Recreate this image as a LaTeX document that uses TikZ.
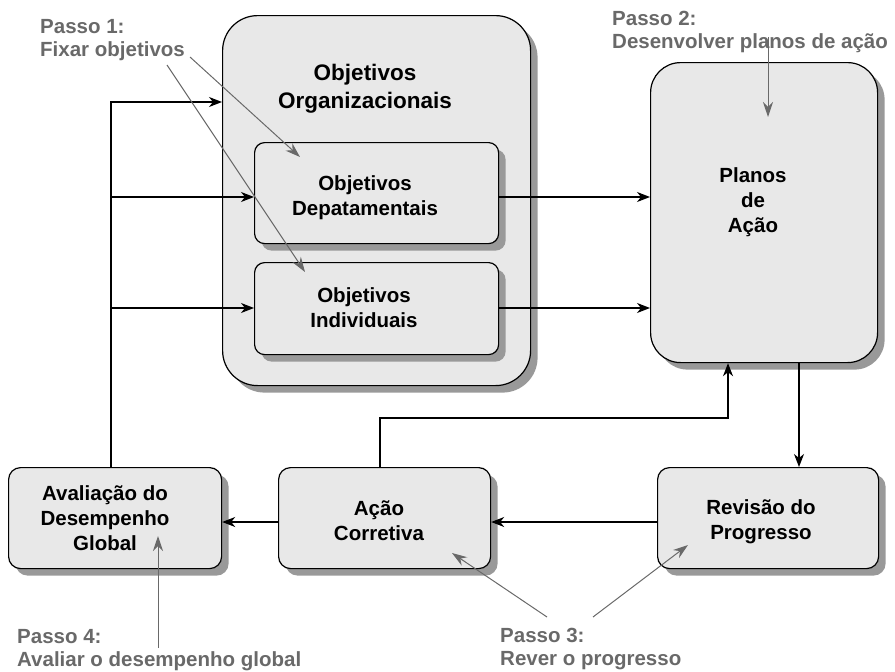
\documentclass[tikz,border=0pt]{standalone}
\usepackage{fontspec}
\setmainfont{Liberation Sans}
\usetikzlibrary{arrows.meta,shadows}
\definecolor{boxfill}{RGB}{232,232,232}
\definecolor{shade}{RGB}{153,153,153}
\definecolor{note}{RGB}{105,105,105}
\newcommand{\lnstrut}{\rule{0pt}{16pt}}
\begin{document}
\begin{tikzpicture}[x=1pt,y=-1pt,
  box/.style={draw=black, line width=1.2pt, fill=boxfill, inner sep=0pt, anchor=north west,
    drop shadow={shadow xshift=7pt, shadow yshift=-7pt, fill=shade, opacity=1}},
  lbl/.style={font=\fontsize{20.5}{25}\selectfont\bfseries, align=center, inner sep=0pt, anchor=north},
  notetxt/.style={font=\fontsize{20.5}{23}\selectfont\bfseries, text=note, align=left, inner sep=0pt, anchor=north west},
  conn/.style={line width=1.2pt, -{Stealth[length=13pt,width=10pt,inset=4pt]}},
  pointer/.style={draw=note, line width=1pt, -{Stealth[length=15pt,width=10pt,inset=5pt]}}
]
\useasboundingbox (0,0) rectangle (895,672);

% boxes
\node[box, rounded corners=35pt, minimum width=308pt, minimum height=370pt] (org) at (222,15) {};
\node[box, rounded corners=10pt, minimum width=244pt, minimum height=101pt] (dep) at (254,142) {};
\node[box, rounded corners=10pt, minimum width=244pt, minimum height=92pt] (ind) at (254,262) {};
\node[box, rounded corners=30pt, minimum width=227pt, minimum height=300pt] (planos) at (650,62) {};
\node[box, rounded corners=12pt, minimum width=213pt, minimum height=101pt] (aval) at (8,467) {};
\node[box, rounded corners=12pt, minimum width=212pt, minimum height=101pt] (acao) at (278,467) {};
\node[box, rounded corners=12pt, minimum width=221pt, minimum height=101pt] (rev) at (657,467) {};

% box texts
\node[lbl, font=\fontsize{22.5}{28}\selectfont\bfseries] (orgtxt) at (365,63) {\rule{0pt}{17pt}Objetivos\\Organizacionais};
\node[lbl] (deptxt) at (365,174) {\lnstrut Objetivos\\Depatamentais};
\node[lbl] (indtxt) at (364,286) {\lnstrut Objetivos\\Individuais};
\node[lbl] (planostxt) at (753,166) {\lnstrut Planos\\de\\Ação};
\node[lbl] (avaltxt) at (105,484) {\lnstrut Avaliação do\\Desempenho\\Global};
\node[lbl] (acaotxt) at (379,499) {\lnstrut Ação\\Corretiva};
\node[lbl] (revtxt) at (761,498) {\lnstrut Revisão do\\Progresso};

% black connectors
\coordinate (busTop) at (111,102);
\coordinate (busDep) at (111,197);
\coordinate (busInd) at (111,308);
\draw[conn] (aval.north -| busTop) -- (busTop) -- (busTop -| org.west);
\draw[conn] (busDep) -- (busDep -| dep.west);
\draw[conn] (busInd) -- (busInd -| ind.west);
\draw[conn] (busDep -| dep.east) -- (busDep -| planos.west);
\draw[conn] (busInd -| ind.east) -- (busInd -| planos.west);
\coordinate (pr) at (799,0);
\draw[conn] (planos.south -| pr) -- (rev.north -| pr);
\coordinate (row) at (0,522);
\draw[conn] (rev.west |- row) -- (acao.east |- row);
\draw[conn] (acao.west |- row) -- (aval.east |- row);
\coordinate (fb) at (380,418);
\coordinate (fbx) at (728,0);
\draw[conn] (acao.north -| fb) -- (fb) -- (fb -| fbx) -- (planos.south -| fbx);

% notes
\node[notetxt] (p1) at (40,17) {\lnstrut Passo 1:\\Fixar objetivos};
\node[notetxt] (p2) at (612,9) {\lnstrut Passo 2:\\Desenvolver planos de ação};
\node[notetxt] (p4) at (17,627) {\lnstrut Passo 4:\\Avaliar o desempenho global};
\node[notetxt] (p3) at (500,626) {\lnstrut Passo 3:\\Rever o progresso};

% pointer coordinates
\coordinate (p1a) at (190,57);  \coordinate (p1aE) at (300,157);
\coordinate (p1b) at (167,65);  \coordinate (p1bE) at (305,272);
\coordinate (p2a) at (768,37);  \coordinate (p2aE) at (768,117);
\coordinate (p4a) at (158,648); \coordinate (p4aE) at (158,536);
\coordinate (p3a) at (547,617); \coordinate (p3aE) at (452,553);
\coordinate (p3b) at (593,617); \coordinate (p3bE) at (688,545);
\draw[pointer] (p1a) -- (p1aE);
\draw[pointer] (p1b) -- (p1bE);
\draw[pointer] (p2a) -- (p2aE);
\draw[pointer] (p4a) -- (p4aE);
\draw[pointer] (p3a) -- (p3aE);
\draw[pointer] (p3b) -- (p3bE);
\end{tikzpicture}
\end{document}
